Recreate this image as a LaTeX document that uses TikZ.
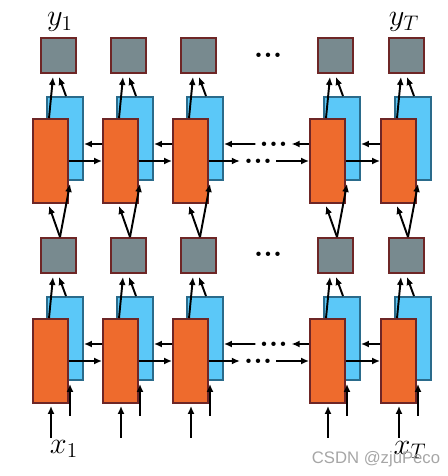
\documentclass[tikz,border=0pt]{standalone}
\usepackage{fontspec}
\newfontfamily\markFont{Liberation Sans}
\usepackage{xcolor}
\definecolor{cellEdge}{HTML}{6E2626}
\definecolor{fwdColor}{HTML}{EE6B2D}
\definecolor{bwdColor}{HTML}{5BC8F8}
\definecolor{bwdEdge}{HTML}{2A6B8B}
\definecolor{outColor}{HTML}{788A8F}
\usepackage{tikz}
\usetikzlibrary{positioning,calc,arrows.meta}
\tikzset{
  fwdBox/.style={
    rectangle,
    draw=cellEdge,
    fill=fwdColor,
    line width=1.1pt,
    inner sep=0pt,
    minimum width=0.7cm,
    minimum height=1.68cm
 },
  bwdBox/.style={
    rectangle,
    draw=bwdEdge,
    fill=bwdColor,
    line width=1.1pt,
    inner sep=0pt,
    minimum width=0.72cm,
    minimum height=1.66cm
 },
  outBox/.style={
    rectangle,
    draw=cellEdge,
    fill=outColor,
    line width=1.1pt,
    inner sep=0pt,
    minimum width=0.7cm,
    minimum height=0.7cm
 },
  dotsText/.style={
    font=\LARGE\bfseries,
    inner xsep=2pt,
    inner ysep=0pt
 },
  labelText/.style={
    font=\LARGE,
    inner sep=0pt
 },
  markText/.style={
    font=\markFont\fontsize{9.5}{11}\selectfont,
    text=gray!70,
    inner sep=0pt
 },
  flowArrow/.style={
    -{Latex[length=1.6mm,width=1.4mm]},
    line width=1.1pt,
    color=black
 }
}

\begin{document}
\begin{tikzpicture}[x=0.02cm, y=-0.02cm]
  \useasboundingbox (0,0) rectangle (448,476);

  % cells of the lower (l) and upper (u) layer
  \foreach \l/\y in {l/361, u/161} {
    \foreach \i/\x in {1/50.5, 2/120.5, 3/190.5, 4/327.5, 5/398.5} {
      \node[bwdBox] (b\l\i) at (\x+14.5,\y-22.5) {};
      \node[fwdBox] (o\l\i) at (\x,\y) {};
      \node[outBox] (g\l\i) at (\x+8,\y-105.5) {};
    }
  }

  \node[dotsText] (dotsTop) at (268,55) {...};
  \node[dotsText] (dotsMid) at (268,254) {...};

  % recurrent connections
  \foreach \l/\y in {l/361, u/161} {
    \foreach \a/\b in {1/2, 2/3, 4/5} {
      \draw[flowArrow] (o\l\a.east) -- (o\l\b.west);
      \draw[flowArrow] ($(o\l\b.west)+(0,-17)$) -- ($(b\l\a.east)+(0,5.5)$);
    }
    \node[dotsText] (bDots\l) at (273.5,\y-17) {...};
    \node[dotsText] (fDots\l) at (258,\y) {...};
    \draw[flowArrow] ($(o\l4.west)+(0,-17)$) -- (bDots\l.east);
    \draw[flowArrow] (bDots\l.west) -- ($(b\l3.east)+(0,5.5)$);
    \draw[flowArrow] (o\l3.east) -- (fDots\l.west);
    \draw[flowArrow] (fDots\l.east) -- (o\l4.west);
  }

  % vertical connections
  \foreach \i in {1,...,5} {
    \draw[flowArrow] ($(ol\i.south)+(0.5,34)$) -- ($(ol\i.south)+(0.5,2)$);
    \draw[flowArrow] ($(bl\i.south)+(5,35)$) -- ($(bl\i.south)+(5,3)$);
    \foreach \l in {l,u} {
      \draw[flowArrow] ($(o\l\i.north)+(-1.5,0)$) -- ($(g\l\i.south)+(-5.5,3)$);
      \draw[flowArrow] ($(b\l\i.north)+(1,0)$) -- ($(g\l\i.south)+(0.5,3)$);
    }
    \draw[flowArrow] ($(gl\i.north)+(1.5,0)$) -- ($(ou\i.south)+(-1.5,2)$);
    \draw[flowArrow] ($(gl\i.north)+(1.5,0)$) -- ($(bu\i.south)+(5,3)$);
  }

  \node[labelText] (yFirst) at (60,22) {$y_1$};
  \node[labelText] (yLast) at (404,22) {$y_T$};
  \node[labelText] (xFirst) at (64,449) {$x_1$};
  \node[labelText] (xLast) at (410,450) {$x_T$};
  \node[markText] (mark) at (376,459) {CSDN @zjuPeco};
\end{tikzpicture}
\end{document}
